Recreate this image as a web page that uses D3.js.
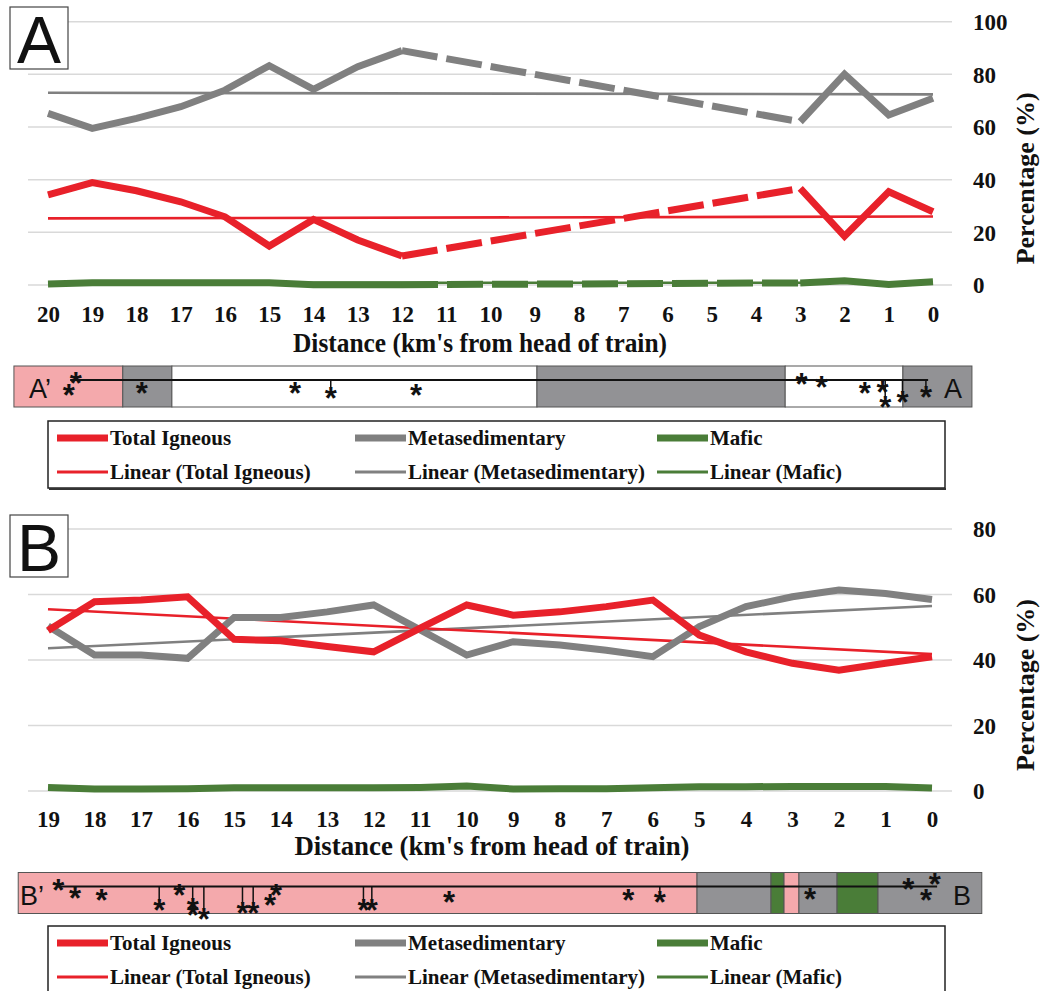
<!DOCTYPE html>
<html>
<head>
<meta charset="utf-8">
<script src="https://cdn.jsdelivr.net/npm/d3@7"></script>
<style>
  body { margin: 0; background: #ffffff; }
  svg { display: block; }
</style>
</head>
<body>
<svg id="fig" width="1056" height="991"></svg>
<script>
// ---------- Panel A: composition along 20 km, distances 20 → 0 ----------
const distA = [20, 19, 18, 17, 16, 15, 14, 13, 12, 11, 10, 9, 8, 7, 6, 5, 4, 3, 2, 1, 0];
const igneousA = [34.2, 38.9, 35.8, 31.6, 25.9, 14.8, 24.9, 17.1, 11.0, null, null, null, null, null, null, null, null, 36.7, 18.5, 35.4, 27.8];
const metaA    = [65.2, 59.5, 63.3, 67.7, 74.0, 83.3, 74.3, 82.9, 89.0, null, null, null, null, null, null, null, null, 62.0, 80.1, 64.6, 70.9];
const maficA   = [0.4, 0.9, 0.9, 0.9, 0.9, 0.9, 0.1, 0.1, 0.1, null, null, null, null, null, null, null, null, 0.8, 1.6, 0.2, 1.2];
// linear trend values at the first and last distance
const trendIgneousA = [25.3, 26.0];
const trendMetaA    = [73.0, 72.4];
const trendMaficA   = [0.8, 0.9];
const yTicksA = [0, 20, 40, 60, 80, 100];

// rock-type strip under panel A (km from, km to, type)
const stripA = [
  [20.77, 18.31, "igneous"], [18.31, 17.20, "meta"], [17.20, 8.95, "none"],
  [8.95, 3.34, "meta"], [3.34, 0.68, "none"], [0.68, -0.88, "meta"]
];
const stripLineA = [19.5, 0.11];
// sample markers: km, drop below the strip line, stem drawn
const samplesA = [
  [19.37, -4, false], [19.53, 8, false], [17.88, 6, false], [14.42, 6, false],
  [13.61, 11, true], [11.68, 8, false], [2.97, -3, false], [2.52, 0, false],
  [1.54, 6, false], [1.14, 5, false], [1.08, 20, true], [0.69, 15, true], [0.16, 10, true]
];

// ---------- Panel B: composition along 19 km, distances 19 → 0 ----------
const distB = [19, 18, 17, 16, 15, 14, 13, 12, 11, 10, 9, 8, 7, 6, 5, 4, 3, 2, 1, 0];
const igneousB = [49.0, 57.8, 58.3, 59.3, 46.3, 45.9, 44.1, 42.5, 49.7, 56.8, 53.7, 54.7, 56.3, 58.3, 47.6, 42.5, 39.0, 36.9, 39.0, 41.0];
const metaB    = [50.4, 41.5, 41.5, 40.5, 53.0, 53.0, 54.7, 56.8, 49.2, 41.5, 45.6, 44.6, 43.0, 41.0, 50.2, 56.3, 59.3, 61.4, 60.3, 58.5];
const maficB   = [1.1, 0.6, 0.6, 0.7, 1.0, 1.0, 1.0, 1.0, 1.1, 1.5, 0.6, 0.7, 0.7, 1.0, 1.3, 1.3, 1.4, 1.4, 1.4, 0.9];
const trendIgneousB = [55.5, 41.8];
const trendMetaB    = [43.6, 56.5];
const trendMaficB   = [0.8, 1.3];
const yTicksB = [0, 20, 40, 60, 80];

const stripB = [
  [19.64, 5.05, "igneous"], [5.05, 3.46, "meta"], [3.46, 3.18, "mafic"], [3.18, 2.86, "igneous"],
  [2.86, 2.04, "meta"], [2.04, 1.16, "mafic"], [1.16, -1.07, "meta"]
];
const stripLineB = [18.79, -0.11];
const samplesB = [
  [18.78, -3, false], [18.42, 5, false], [17.85, 7, false], [16.61, 17, true], [16.18, 2, false],
  [15.89, 16, true], [15.89, 22, false], [15.65, 26, true], [14.82, 20, true], [14.59, 20, true],
  [14.23, 12, false], [14.10, 2, false], [12.22, 17, true], [12.04, 17, true], [10.38, 9, false],
  [6.53, 7, false], [5.85, 9, true], [2.62, 6, false], [0.51, -4, false], [0.13, 7, false], [-0.06, -9, false]
];

const seriesNames = ["Total Igneous", "Metasedimentary", "Mafic"];
const axisTitle = "Distance (km's from head of train)";
const yTitle = "Percentage (%)";

const colors = { igneous: "#e8212a", meta: "#808080", mafic: "#4a7d38" };
const stripFill = { igneous: "#f4a9ac", meta: "#929295", mafic: "#4a7d38", none: "#ffffff" };

const SERIF = "'Liberation Serif', Tinos, 'Noto Serif', 'DejaVu Serif', 'Noto Serif CJK SC', FreeSerif, 'Times New Roman', Times, serif";
const SANS = "'Liberation Sans', Arial, Helvetica, sans-serif";

const svg = d3.select("#fig");

function serif(sel, size) {
  return sel.attr("font-family", SERIF).style("font-family", SERIF)
    .attr("font-weight", "bold").style("font-weight", "bold")
    .attr("font-size", size).attr("fill", "#111");
}
function sans(sel, size) {
  return sel.attr("font-family", SANS).style("font-family", SANS)
    .attr("font-size", size).attr("fill", "#111");
}

function drawPanel(cfg) {
  const g = svg.append("g");
  const x = d3.scalePoint().domain(cfg.dist).range([48, cfg.xEnd]);
  const xKm = d3.scaleLinear().domain([cfg.dist[0], 0]).range([48, cfg.xEnd]);
  const y = d3.scaleLinear().domain([0, cfg.yMax]).range([cfg.y0, cfg.yTop]);

  // gridlines
  g.append("g").selectAll("line").data(cfg.yTicks).join("line")
    .attr("x1", 28).attr("x2", 952)
    .attr("y1", d => y(d)).attr("y2", d => y(d))
    .attr("stroke", "#d9d9d9").attr("stroke-width", 1.5);

  // right-side value axis
  const yAxis = d3.axisRight(y).tickValues(cfg.yTicks).tickSize(0).tickPadding(0);
  const ya = g.append("g").attr("transform", "translate(973,0)").call(yAxis);
  ya.select(".domain").remove();
  ya.attr("font-family", null).attr("font-size", null);
  serif(ya.selectAll("text"), 23).attr("dy", "0.34em").attr("x", 0);

  serif(g.append("text"), 26)
    .attr("transform", `translate(1034,${(cfg.y0 + cfg.yTop) / 2 + 25}) rotate(-90)`)
    .attr("text-anchor", "middle").text(yTitle);

  // category axis
  const xAxis = d3.axisBottom(x).tickSize(0).tickPadding(0);
  const xa = g.append("g").attr("transform", `translate(0,${cfg.xLabelY})`).call(xAxis);
  xa.select(".domain").remove();
  xa.attr("font-family", null).attr("font-size", null);
  serif(xa.selectAll("text"), 23).attr("dy", 0).attr("y", 0);

  serif(g.append("text"), 27)
    .attr("x", cfg.titleX).attr("y", cfg.titleY).attr("text-anchor", "middle")
    .attr("textLength", cfg.titleLen).attr("lengthAdjust", "spacingAndGlyphs")
    .text(axisTitle);

  // trend lines
  const trends = [
    [cfg.trendMafic, colors.mafic], [cfg.trendMeta, colors.meta], [cfg.trendIgneous, colors.igneous]
  ];
  const first = cfg.dist[0], last = cfg.dist[cfg.dist.length - 1];
  trends.forEach(([t, c]) => {
    g.append("line").attr("x1", x(first)).attr("x2", x(last))
      .attr("y1", y(t[0])).attr("y2", y(t[1]))
      .attr("stroke", c).attr("stroke-width", 2.6);
  });

  // series lines: solid where sampled, dashed across unsampled stretches
  const pts = vals => cfg.dist.map((d, i) => ({ d, v: vals[i] }));
  const line = d3.line().defined(p => p.v != null).x(p => x(p.d)).y(p => y(p.v));
  const series = [
    [cfg.mafic, colors.mafic], [cfg.meta, colors.meta], [cfg.igneous, colors.igneous]
  ];
  series.forEach(([vals, c]) => {
    const p = pts(vals);
    g.append("path").datum(p).attr("d", line).attr("fill", "none")
      .attr("stroke", c).attr("stroke-width", 7).attr("stroke-linejoin", "miter");
    for (let i = 1; i < p.length; i++) {
      if (p[i].v == null && p[i - 1].v != null) {
        let j = i;
        while (j < p.length && p[j].v == null) j++;
        if (j < p.length) {
          g.append("path").datum([p[i - 1], p[j]]).attr("d", d3.line().x(q => x(q.d)).y(q => y(q.v)))
            .attr("fill", "none").attr("stroke", c).attr("stroke-width", 7)
            .attr("stroke-dasharray", "36,9");
        }
      }
    }
  });

  // panel letter
  g.append("rect").attr("x", 10).attr("y", cfg.boxY).attr("width", 58).attr("height", 62)
    .attr("fill", "#fff").attr("stroke", "#444").attr("stroke-width", 1.2);
  sans(g.append("text"), 66).attr("text-anchor", "middle")
    .attr("x", 39).attr("y", cfg.boxY + 56).text(cfg.letter);

  // rock-type strip with sample positions
  const s = g.append("g");
  const sTop = cfg.stripY, sH = 41;
  s.selectAll("rect").data(cfg.strip).join("rect")
    .attr("x", d => xKm(d[0])).attr("width", d => xKm(d[1]) - xKm(d[0]))
    .attr("y", sTop).attr("height", sH)
    .attr("fill", d => stripFill[d[2]]).attr("stroke", "#555").attr("stroke-width", 1);
  const lineY = sTop + 14;
  s.append("line").attr("x1", xKm(cfg.stripLine[0])).attr("x2", xKm(cfg.stripLine[1]))
    .attr("y1", lineY).attr("y2", lineY).attr("stroke", "#111").attr("stroke-width", 1.8);
  s.selectAll("line.stem").data(cfg.samples.filter(d => d[2])).join("line").attr("class", "stem")
    .attr("x1", d => xKm(d[0])).attr("x2", d => xKm(d[0]))
    .attr("y1", lineY).attr("y2", d => lineY + d[1] - 3)
    .attr("stroke", "#111").attr("stroke-width", 1.5);
  sans(s.selectAll("text.star").data(cfg.samples).join("text").attr("class", "star"), 31)
    .attr("font-weight", "bold").attr("text-anchor", "middle")
    .attr("x", d => xKm(d[0])).attr("y", d => lineY + d[1]).attr("dy", "0.58em").text("*");
  sans(s.append("text"), 27)
    .attr("x", cfg.startLabelX).attr("y", sTop + 32).text(cfg.startLabel);
  sans(s.append("text"), 27)
    .attr("x", cfg.endLabelX).attr("y", sTop + 32).text(cfg.letter);

  // legend
  const L = g.append("g");
  L.append("rect").attr("x", 48).attr("y", cfg.legendY).attr("width", 897).attr("height", cfg.legendH)
    .attr("fill", "#fff").attr("stroke", "#222").attr("stroke-width", 1.5);
  L.append("line").attr("x1", 49).attr("x2", 946).attr("y1", cfg.legendY + cfg.legendH + 1)
    .attr("y2", cfg.legendY + cfg.legendH + 1).attr("stroke", "#333").attr("stroke-width", 2);
  const cols = [57, 355, 657];
  const keys = ["igneous", "meta", "mafic"];
  keys.forEach((k, i) => {
    [[0, 7, seriesNames[i]], [1, 3, "Linear (" + seriesNames[i] + ")"]].forEach(([row, w, label]) => {
      const ry = cfg.legendY + 17 + row * 34;
      L.append("line").attr("x1", cols[i]).attr("x2", cols[i] + 51)
        .attr("y1", ry).attr("y2", ry).attr("stroke", colors[k]).attr("stroke-width", w);
      serif(L.append("text"), 21)
        .attr("x", cols[i] + 53).attr("y", ry).attr("dy", "0.34em").text(label);
    });
  });
}

drawPanel({
  letter: "A", startLabel: "A\u2019", startLabelX: 29, endLabelX: 944,
  dist: distA, xEnd: 933, yMax: 100, y0: 285, yTop: 21.7, yTicks: yTicksA,
  igneous: igneousA, meta: metaA, mafic: maficA,
  trendIgneous: trendIgneousA, trendMeta: trendMetaA, trendMafic: trendMaficA,
  xLabelY: 322, titleX: 480, titleY: 352, titleLen: 374,
  boxY: 7, stripY: 366, strip: stripA, stripLine: stripLineA, samples: samplesA,
  legendY: 421, legendH: 67
});

drawPanel({
  letter: "B", startLabel: "B\u2019", startLabelX: 20, endLabelX: 953,
  dist: distB, xEnd: 932, yMax: 80, y0: 791, yTop: 529, yTicks: yTicksB,
  igneous: igneousB, meta: metaB, mafic: maficB,
  trendIgneous: trendIgneousB, trendMeta: trendMetaB, trendMafic: trendMaficB,
  xLabelY: 827, titleX: 492, titleY: 855, titleLen: 395,
  boxY: 515, stripY: 872.5, strip: stripB, stripLine: stripLineB, samples: samplesB,
  legendY: 926, legendH: 70
});
</script>
</body>
</html>
